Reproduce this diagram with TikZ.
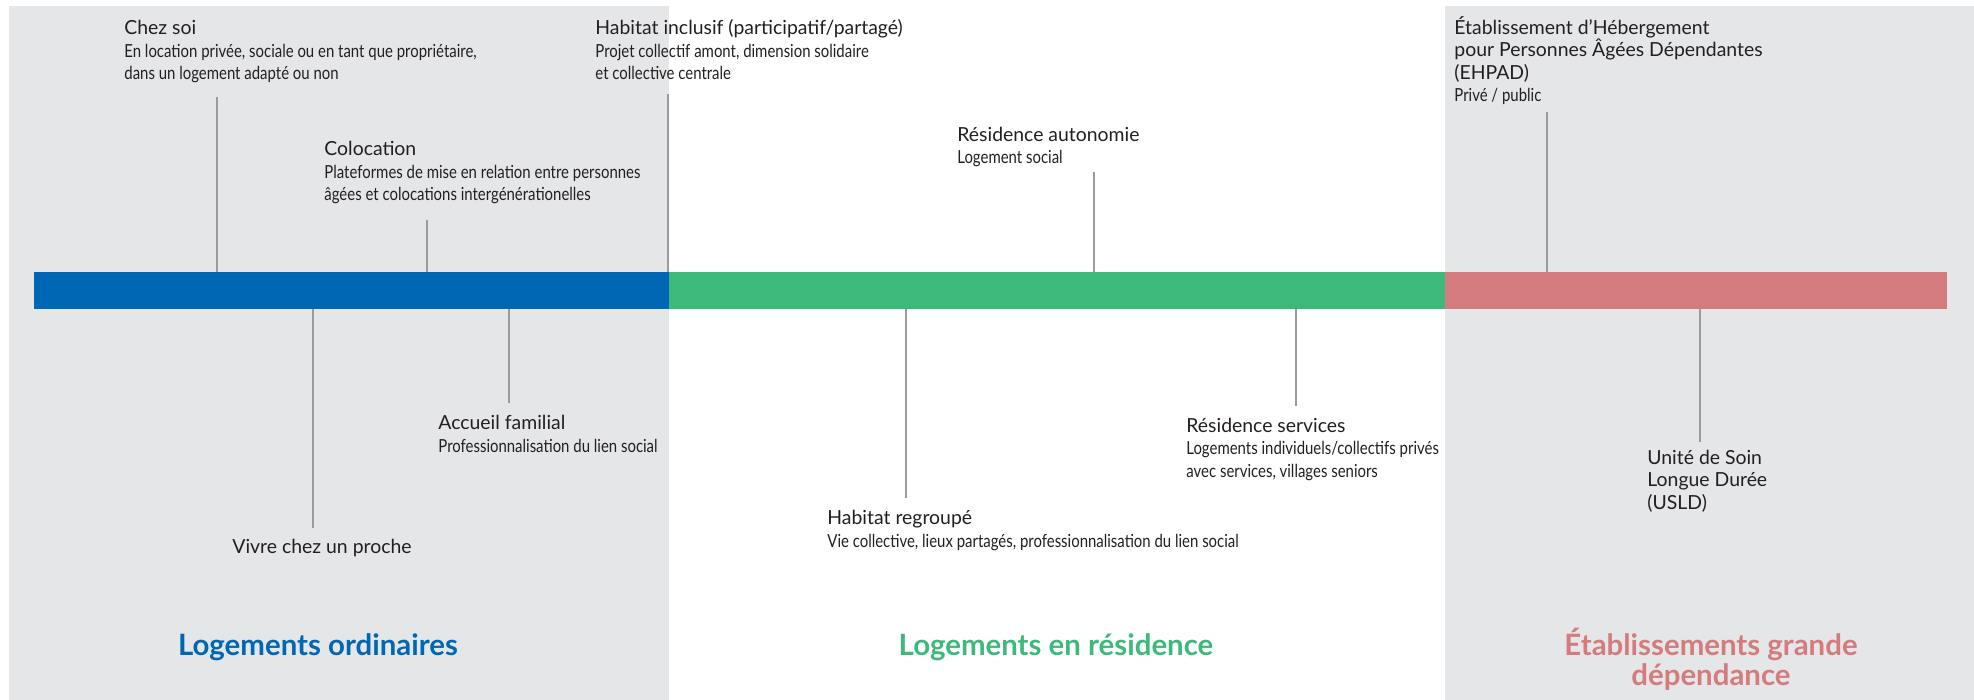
\documentclass[tikz,border=0pt]{standalone}
\usepackage{fontspec}
\setmainfont{Lato}
\newfontfamily\condfont[FakeStretch=0.83]{Lato}

\definecolor{blueord}{HTML}{0067B4}
\definecolor{greenres}{HTML}{3CB97B}
\definecolor{pinketab}{HTML}{D47B7E}
\definecolor{panelgray}{HTML}{E5E6E8}
\definecolor{tickgray}{HTML}{9B9B9B}
\definecolor{inkdark}{HTML}{231F20}

\newcommand{\ttl}{\fontsize{9.7}{11.25}\selectfont}
\newcommand{\sbt}{\condfont\fontsize{9}{11.25}\selectfont}
\newcommand{\hdg}{\bfseries\fontsize{14.7}{15}\selectfont}

\begin{document}
\begin{tikzpicture}[x=0.5pt, y=-0.5pt,
	lbl/.style={anchor=base west, align=left, inner sep=0pt, text=inkdark, font=\ttl},
	tick/.style={draw=tickgray, line width=1pt},
	hd/.style={anchor=base, align=center, inner sep=0pt, font=\hdg}]
	\useasboundingbox (0,0) rectangle (1974,700);

	% the three zones
	\fill[panelgray] (9,6) rectangle (669,700);
	\fill[panelgray] (1445,6) rectangle (1974,700);
	\fill[blueord] (34,272) rectangle (669,309);
	\fill[greenres] (669,272) rectangle (1445,309);
	\fill[pinketab] (1445,272) rectangle (1946.5,309);
	\coordinate (bartop) at (0,272);
	\coordinate (barbot) at (0,309);

	% above the bar (nodes sit on their last line)
	\node[lbl] (chezsoi) at (124,80) {\ttl Chez soi\\
		\sbt En location privée, sociale ou en tant que propriétaire,\\
		\sbt dans un logement adapté ou non};
	\coordinate (chezsoi-t) at (216.5,97);
	\draw[tick] (chezsoi-t) -- (chezsoi-t |- bartop);

	\node[lbl] (coloc) at (324,201) {\ttl Colocation\\
		\sbt Plateformes de mise en relation entre personnes\\
		\sbt âgées et colocations intergénérationelles};
	\coordinate (coloc-t) at (427,220);
	\draw[tick] (coloc-t) -- (coloc-t |- bartop);

	\node[lbl] (inclusif) at (595,80) {\ttl Habitat inclusif (participatif/partagé)\\
		\sbt Projet collectif amont, dimension solidaire\\
		\sbt et collective centrale};
	\coordinate (inclusif-t) at (668,94);
	\draw[tick] (inclusif-t) -- (inclusif-t |- bartop);

	\node[lbl] (autonomie) at (957,164) {\ttl Résidence autonomie\\
		\sbt Logement social};
	\coordinate (autonomie-t) at (1094,172);
	\draw[tick] (autonomie-t) -- (autonomie-t |- bartop);

	\node[lbl] (ehpad) at (1454,102) {\ttl Établissement d’Hébergement\\
		\ttl pour Personnes Âgées Dépendantes\\
		\ttl (EHPAD)\\
		\sbt Privé / public};
	\coordinate (ehpad-t) at (1547,112);
	\draw[tick] (ehpad-t) -- (ehpad-t |- bartop);

	% below the bar
	\node[lbl] (proche) at (232,553) {\ttl Vivre chez un proche};
	\coordinate (proche-t) at (312.5,528);
	\draw[tick] (proche-t |- barbot) -- (proche-t);

	\node[lbl] (accueil) at (438,452) {\ttl Accueil familial\\
		\sbt Professionnalisation du lien social};
	\coordinate (accueil-t) at (509,403);
	\draw[tick] (accueil-t |- barbot) -- (accueil-t);

	\node[lbl] (regroupe) at (827,547) {\ttl Habitat regroupé\\
		\sbt Vie collective, lieux partagés, professionnalisation du lien social};
	\coordinate (regroupe-t) at (906,498);
	\draw[tick] (regroupe-t |- barbot) -- (regroupe-t);

	\node[lbl] (services) at (1186,477) {\ttl Résidence services\\
		\sbt Logements individuels/collectifs privés\\
		\sbt avec services, villages seniors};
	\coordinate (services-t) at (1296,406);
	\draw[tick] (services-t |- barbot) -- (services-t);

	\node[lbl] (usld) at (1647,509) {\ttl Unité de Soin\\
		\ttl Longue Durée\\
		\ttl (USLD)};
	\coordinate (usld-t) at (1700,442);
	\draw[tick] (usld-t |- barbot) -- (usld-t);

	% zone names
	\node[hd, text=blueord] (ordinaires) at (318,655) {Logements ordinaires};
	\node[hd, text=greenres] (residence) at (1056,655) {Logements en résidence};
	\node[hd, text=pinketab] (etablissements) at (1711,685) {Établissements grande\\dépendance};
\end{tikzpicture}
\end{document}
